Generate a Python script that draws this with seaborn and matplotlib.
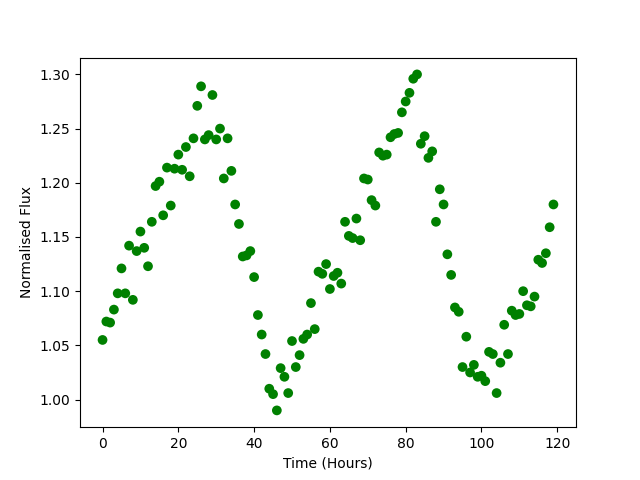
import numpy as np
import pandas as pd
import seaborn as sns
import matplotlib
matplotlib.use('Agg')
import matplotlib.pyplot as plt

# Light curve samples, one per hour
time_hours = list(range(120))
flux = [
    1.055, 1.072, 1.071, 1.083, 1.098, 1.121, 1.098, 1.142, 1.092, 1.137,
    1.155, 1.140, 1.123, 1.164, 1.197, 1.201, 1.170, 1.214, 1.179, 1.213,
    1.226, 1.212, 1.233, 1.206, 1.241, 1.271, 1.289, 1.240, 1.244, 1.281,
    1.240, 1.250, 1.204, 1.241, 1.211, 1.180, 1.162, 1.132, 1.133, 1.137,
    1.113, 1.078, 1.060, 1.042, 1.010, 1.005, 0.990, 1.029, 1.021, 1.006,
    1.054, 1.030, 1.041, 1.056, 1.060, 1.089, 1.065, 1.118, 1.116, 1.125,
    1.102, 1.114, 1.117, 1.107, 1.164, 1.151, 1.149, 1.167, 1.147, 1.204,
    1.203, 1.184, 1.179, 1.228, 1.225, 1.226, 1.242, 1.245, 1.246, 1.265,
    1.275, 1.283, 1.296, 1.300, 1.236, 1.243, 1.223, 1.229, 1.164, 1.194,
    1.180, 1.134, 1.115, 1.085, 1.081, 1.030, 1.058, 1.025, 1.032, 1.021,
    1.022, 1.017, 1.044, 1.042, 1.006, 1.034, 1.069, 1.042, 1.082, 1.078,
    1.079, 1.100, 1.087, 1.086, 1.095, 1.129, 1.126, 1.135, 1.159, 1.180,
]

df = pd.DataFrame({'time': time_hours, 'flux': flux})

fig, ax = plt.subplots(figsize=(6.4, 4.8), dpi=100)
sns.scatterplot(data=df, x='time', y='flux', color='green',
                s=49, edgecolor='none', ax=ax)

ax.set_xlabel('Time (Hours)')
ax.set_ylabel('Normalised Flux')
ax.set_xticks([0, 20, 40, 60, 80, 100, 120])
ax.set_yticks([1.00, 1.05, 1.10, 1.15, 1.20, 1.25, 1.30])

fig.savefig('out.png', dpi=100)
